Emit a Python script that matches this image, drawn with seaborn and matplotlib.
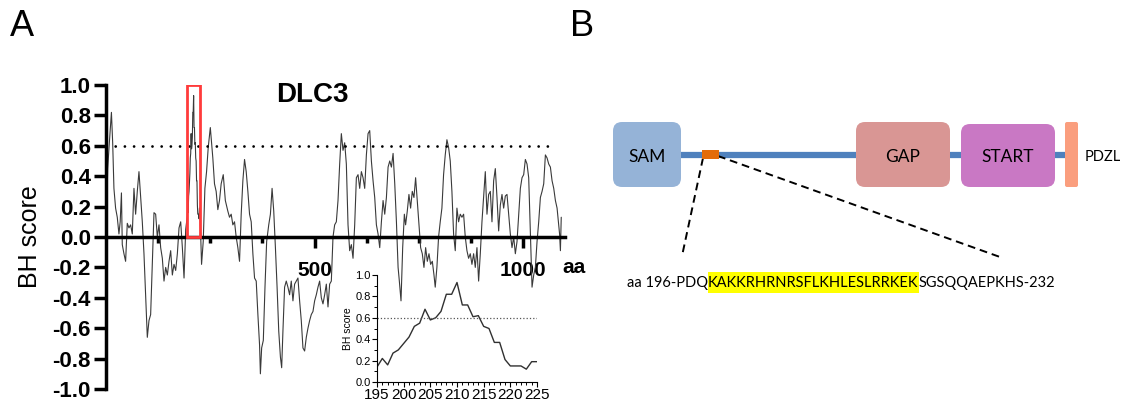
import matplotlib
matplotlib.use("Agg")
import matplotlib.pyplot as plt
from matplotlib.patches import Rectangle, FancyBboxPatch
from matplotlib.ticker import MultipleLocator, FormatStrFormatter
import seaborn as sns

# BH score along DLC3
aa_pos = [1, 4, 8, 13, 16, 19, 23, 27, 31, 34, 37, 39, 43, 47, 51, 55, 59, 63, 67, 71,
          75, 79, 83, 87, 91, 95, 99, 103, 107, 111, 115, 119, 123, 127, 131, 135, 139,
          143, 147, 151, 155, 159, 163, 167, 171, 175, 179, 183, 187, 191,
          195, 196, 197, 198, 199, 200, 201, 202, 203, 204, 205, 206, 207, 208, 209, 210,
          211, 212, 213, 214, 215, 216, 217, 218, 219, 220, 221, 222, 223, 224, 225,
          229, 233, 237, 241, 245, 250, 256, 260, 264, 268, 272,
          276, 281, 286, 292, 296, 300, 304, 308, 312, 316, 320, 324, 328, 332, 336, 340,
          344, 348, 352, 356, 360, 364, 368, 370, 373, 377, 381, 385, 390, 394, 398, 402,
          406, 410, 414, 418, 421, 424, 428, 432, 436, 440, 444, 448, 452, 456, 460, 464,
          468, 472, 476, 480, 484, 488, 492, 496, 500, 504, 508, 512, 516, 520, 524, 528,
          532, 536, 540, 544, 548, 552, 556,
          560, 564, 568, 572, 576, 580, 584, 588, 592, 596, 600, 604, 608, 612, 616, 620,
          624, 628, 632, 636, 640, 644, 648, 652, 656, 660, 664, 668, 672, 676, 680, 684,
          688, 692, 696, 700, 703, 707, 711, 715, 718, 722, 726, 730, 734, 738, 742, 746,
          750, 754, 758, 762, 766, 770, 774, 778, 782, 786, 789, 793, 797, 801, 805, 809,
          813, 817, 821, 825, 829,
          833, 837, 841, 845, 849, 853, 857, 861, 865, 869, 873, 877, 881, 885, 889, 893,
          897, 901, 905, 909, 913, 917, 921, 925, 929, 933, 937, 941, 945, 949, 953, 957,
          961, 965, 969, 973, 977, 981, 985, 989, 993, 997, 1001, 1005, 1009, 1013, 1017,
          1021, 1025, 1029, 1033, 1037, 1041, 1045, 1049, 1053, 1057, 1061, 1065, 1069,
          1073, 1077, 1081, 1085, 1087, 1089, 1091]
bh_score = [0.10, 0.45, 0.62, 0.82, 0.62, 0.32, 0.19, 0.13, 0.02, 0.10, 0.29, -0.05, -0.11,
            -0.16, 0.09, 0.06, 0.08, 0.02, 0.32, 0.15, 0.30, 0.43, 0.26, 0.10, -0.11, -0.38,
            -0.66, -0.55, -0.51, -0.18, 0.16, 0.15, 0.00, 0.08, -0.07, -0.14, -0.29, -0.20,
            -0.25, -0.16, -0.09, -0.25, -0.18, -0.22, -0.11, 0.06, 0.10, -0.07, -0.27, 0.05,
            0.14, 0.22, 0.16, 0.27, 0.30, 0.36, 0.42, 0.52, 0.55, 0.68, 0.58, 0.60, 0.66,
            0.82, 0.82, 0.93, 0.72, 0.72, 0.61, 0.62, 0.52, 0.50, 0.37, 0.37, 0.21, 0.15,
            0.15, 0.15, 0.12, 0.19, 0.19,
            -0.18, -0.03, 0.32, 0.43, 0.59, 0.72, 0.52, 0.35, 0.30, 0.18, 0.24,
            0.35, 0.41, 0.24, 0.17, 0.13, 0.15, 0.08, 0.10, 0.00, -0.07, -0.16, 0.15, 0.37,
            0.51, 0.43, 0.30, 0.15, 0.10, -0.11, -0.27, -0.29, -0.51, -0.71, -0.90, -0.73,
            -0.68, -0.33, -0.03, 0.08, 0.15, 0.32, 0.17, -0.07, -0.33, -0.62, -0.79, -0.86,
            -0.62, -0.33, -0.29, -0.33, -0.38, -0.29, -0.42, -0.31, -0.29, -0.27, -0.42,
            -0.55, -0.73, -0.75, -0.66, -0.60, -0.55, -0.51, -0.49, -0.42, -0.38, -0.33,
            -0.29, -0.40, -0.44, -0.38, -0.31, -0.46, -0.31, -0.29, 0.00, 0.08, 0.10, 0.24,
            0.48, 0.68, 0.57, 0.62, 0.48, 0.08, -0.09, -0.05, -0.14, 0.08, 0.39, 0.41, 0.32,
            0.43, 0.39, 0.32, 0.54, 0.68, 0.70, 0.50, 0.37, 0.26, 0.08, 0.02, -0.07, 0.10,
            0.24, 0.15, 0.26, 0.46, 0.50, 0.46, 0.55, 0.35, 0.10, -0.20, -0.29, -0.42,
            -0.07, 0.15, 0.08, 0.17, 0.28, 0.19, 0.30, 0.26, 0.39, 0.24, 0.10, -0.07, -0.11,
            -0.20, -0.07, -0.16, -0.11, -0.18, -0.16, -0.25, -0.33, -0.20, 0.00, 0.10, 0.19,
            0.41, 0.54, 0.64, 0.59, 0.50, 0.30,
            0.02, -0.09, 0.19, 0.10, 0.15, 0.13, 0.15, 0.00, -0.09, -0.14, -0.11, -0.18,
            -0.11, -0.20, -0.07, -0.29, -0.11, 0.10, 0.26, 0.43, 0.15, 0.28, 0.30, 0.10,
            0.37, 0.45, 0.26, 0.04, 0.21, 0.28, 0.19, 0.27, 0.28, 0.15, 0.02, -0.07, 0.00,
            -0.11, -0.03, 0.15, 0.32, 0.39, 0.41, 0.51, 0.48, 0.39, 0.04, -0.33, -0.25,
            -0.20, -0.03, 0.10, 0.26, 0.30, 0.35, 0.54, 0.52, 0.48, 0.46, 0.37, 0.32, 0.24,
            0.19, 0.08, 0.02, -0.09, 0.13]

# zoom on the basic-hydrophobic stretch
inset_aa = list(range(195, 226))
inset_bh = [0.14, 0.22, 0.16, 0.27, 0.30, 0.36, 0.42, 0.52, 0.55, 0.68, 0.58, 0.60, 0.66,
            0.82, 0.82, 0.93, 0.72, 0.72, 0.61, 0.62, 0.52, 0.50, 0.37, 0.37, 0.21, 0.15,
            0.15, 0.15, 0.12, 0.19, 0.19]

threshold = 0.6
hit_start, hit_end = 195, 225
y_ticks = [-1.0, -0.8, -0.6, -0.4, -0.2, 0.0, 0.2, 0.4, 0.6, 0.8, 1.0]

# panel B domain diagram
domain_names = ["SAM", "GAP", "START"]
domain_colors = ["#95B3D7", "#D99694", "#C978C4"]
seq_pre = "aa 196-PDQ"
seq_motif = "KAKKRHRNRSFLKHLESLRRKEK"
seq_post = "SGSQQAEPKHS-232"

sns.set_style("ticks", {"axes.edgecolor": "black", "xtick.color": "black",
                        "ytick.color": "black", "text.color": "black",
                        "axes.labelcolor": "black"})
plt.rcParams["font.family"] = ["Liberation Sans", "DejaVu Sans"]
plt.rcParams["axes.unicode_minus"] = False

W, H = 1123, 401
fig = plt.figure(figsize=(W / 100, H / 100), dpi=100)


def fx(px):
    return px / W


def fy(py):
    return 1 - py / H


# ---- panel A main plot
ax = fig.add_axes([fx(106), fy(389), (565 - 106) / W, (389 - 85) / H])
ax.patch.set_alpha(0)
sns.lineplot(x=aa_pos, y=bh_score, ax=ax, color="#3a3a3a", lw=0.8)
ax.set_xlim(0, 1100)
ax.set_ylim(-1, 1)
ax.plot([0, 1076], [threshold, threshold], color="black", lw=2,
        ls=(0, (0.01, 3.3)), dash_capstyle="round")
ax.add_patch(Rectangle((hit_start, 0), hit_end - hit_start, 1.0, fill=False,
                       ec="#FF3B3B", lw=2, zorder=5))

for s in ["top", "right"]:
    ax.spines[s].set_visible(False)
ax.spines["bottom"].set_position(("data", 0))
for s in ["left", "bottom"]:
    ax.spines[s].set_linewidth(2.5)

ax.set_yticks(y_ticks)
ax.yaxis.set_major_formatter(FormatStrFormatter("%.1f"))
ax.set_xticks([500, 1000])
ax.set_xticks([125, 250, 375, 625, 750, 875], minor=True)
ax.tick_params(axis="y", length=9, width=2.5, labelsize=16, pad=2)
ax.tick_params(axis="x", which="major", length=8, width=2.5, labelsize=15, pad=9)
ax.tick_params(axis="x", which="minor", length=4, width=2.5)
for lab in ax.get_yticklabels() + ax.get_xticklabels():
    lab.set_fontweight("bold")
ax.text(1094, -0.2, "aa", fontsize=15, fontweight="bold", ha="left", va="center")
ax.set_xlabel("")
ax.set_ylabel("")

fig.text(fx(30), fy(237), "BH score", rotation=90, fontsize=18, ha="center", va="center")
fig.text(fx(312), fy(95), "DLC3", fontsize=20, fontweight="bold", ha="center", va="center")
fig.text(fx(22), fy(26), "A", fontsize=26, ha="center", va="center")
fig.text(fx(582), fy(26), "B", fontsize=26, ha="center", va="center")

# ---- inset
iax = fig.add_axes([fx(377), fy(382), 160 / W, 107 / H])
iax.patch.set_alpha(0)
sns.lineplot(x=inset_aa, y=inset_bh, ax=iax, color="#303030", lw=1.0)
iax.axhline(threshold, ls=":", lw=0.9, color="#555555")
iax.set_xlim(195, 225)
iax.set_ylim(0, 1.0)
iax.set_xticks(range(195, 226, 5))
iax.xaxis.set_minor_locator(MultipleLocator(1))
iax.set_yticks([0.0, 0.2, 0.4, 0.6, 0.8, 1.0])
iax.yaxis.set_major_formatter(FormatStrFormatter("%.1f"))
iax.yaxis.set_minor_locator(MultipleLocator(0.1))
for s in ["top", "right"]:
    iax.spines[s].set_visible(False)
for s in ["left", "bottom"]:
    iax.spines[s].set_linewidth(0.8)
iax.tick_params(axis="x", which="major", length=3.5, width=0.8, labelsize=11, pad=1)
iax.tick_params(axis="y", which="major", length=3.5, width=0.8, labelsize=8, pad=1)
iax.tick_params(which="minor", length=2, width=0.7)
iax.set_xlabel("")
iax.set_ylabel("BH score", fontsize=7.5, labelpad=2)

# ---- panel B
bax = fig.add_axes([fx(600), 0, (W - 600) / W, 1])
bax.set_xlim(600, W)
bax.set_ylim(H, 0)
bax.axis("off")

b_font = ["Lato", "DejaVu Sans"]
bax.plot([681, 1066], [155, 155], color="#4F81BD", lw=4.5, solid_capstyle="butt", zorder=1)
boxes = [(613, 122, 68, 65), (856, 122, 94, 65), (961, 124, 94, 63)]
for (x0, y0, w, h), name, col in zip(boxes, domain_names, domain_colors):
    bax.add_patch(FancyBboxPatch((x0, y0), w, h, boxstyle="round,pad=0,rounding_size=9",
                                 fc=col, ec="none", zorder=2))
    bax.text(x0 + w / 2, y0 + h / 2 + 2, name, fontsize=12.5, ha="center", va="center",
             family=b_font, zorder=3)
bax.add_patch(FancyBboxPatch((1065, 122), 13, 65, boxstyle="round,pad=0,rounding_size=2",
                             fc="#FA9E7E", ec="none", zorder=2))
bax.text(1085, 157, "PDZL", fontsize=10.5, ha="left", va="center", family=b_font)
bax.add_patch(Rectangle((702, 150), 17, 9, fc="#E36C09", ec="none", zorder=3))

bax.plot([703, 682], [158, 256], color="black", lw=1.4, ls=(0, (4, 2.5)), zorder=2)
bax.plot([718, 1000], [156, 257], color="black", lw=1.4, ls=(0, (4, 2.5)), zorder=2)

probe = bax.text(0, 0, seq_pre + seq_motif + seq_post, fontsize=10, family=b_font)
fig.canvas.draw()
renderer = fig.canvas.get_renderer()
seq_size = 10 * 426 / probe.get_window_extent(renderer).width
probe.remove()

x = 627
for part, highlight in [(seq_pre, False), (seq_motif, True), (seq_post, False)]:
    t = bax.text(x, 283, part, fontsize=seq_size, family=b_font, ha="left",
                 va="center", zorder=3)
    w = t.get_window_extent(renderer).width
    if highlight:
        bax.add_patch(Rectangle((x, 272), w, 21, fc="#FFFF00", ec="none", zorder=2))
    x += w

fig.savefig("out.png", dpi=100)
